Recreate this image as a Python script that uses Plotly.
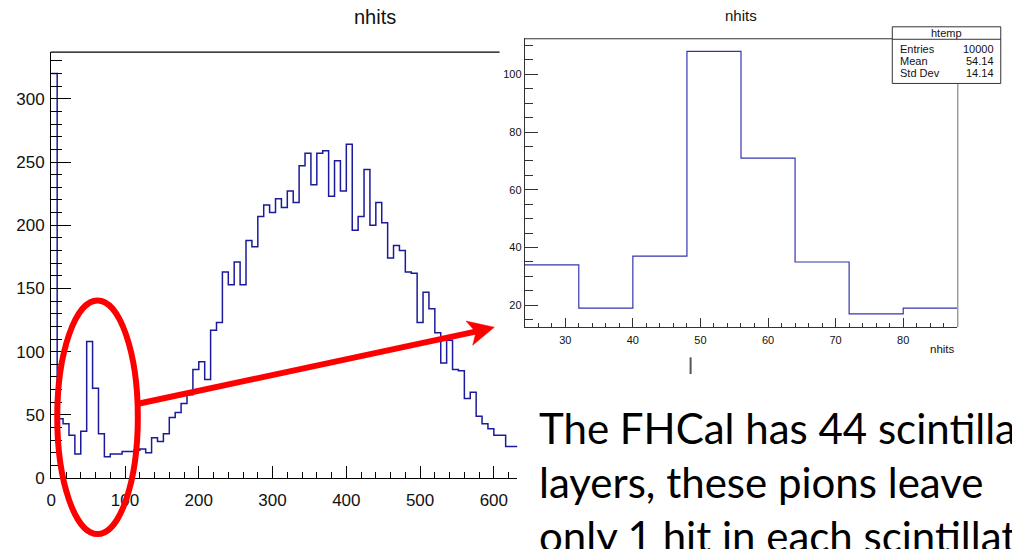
import plotly.graph_objects as go

W, H = 1012, 549

# ---------------- data ----------------
bin_width = 8
left_first_edge = 0
left_counts = [320, 47, 43, 34, 19, 37, 108, 71, 35, 17,
               19, 19, 21, 21, 22, 23, 20, 32, 29, 35,
               48, 52, 59, 66, 86, 92, 78, 117, 123, 163,
               153, 171, 153, 188, 183, 207, 216, 210, 221, 214,
               227, 218, 247, 257, 232, 257, 259, 223, 251, 227,
               264, 196, 207, 244, 200, 218, 202, 174, 184, 180,
               163, 162, 123, 147, 134, 115, 91, 109, 86, 85,
               63, 68, 49, 43, 39, 34, 34, 25, 25]
right_first_edge = 24
right_counts = [34, 19, 37, 108, 71, 35, 17, 19]

stats_title = "htemp"
stats_labels = ["Entries", "Mean", "Std Dev"]
stats_values = ["10000", "54.14", "14.14"]

slide_lines = ["The FHCal has 44 scintillator",
               "layers, these pions leave",
               "only 1 hit in each scintillator"]


def edges(first, n):
    return [first + bin_width * i for i in range(n + 1)]


def px(x):
    return x / W


def py(y):
    return 1 - y / H


left_x = edges(left_first_edge, len(left_counts))
left_y = left_counts + [left_counts[-1]]
right_x = edges(right_first_edge, len(right_counts))
right_y = right_counts + [right_counts[-1]]

HIST = "#1a1a9a"
RED = "#ff0000"
FONT = "Liberation Sans, Arial, sans-serif"

fig = go.Figure()
fig.add_trace(go.Scatter(x=left_x, y=left_y, mode="lines", line_shape="hv",
                         line=dict(color=HIST, width=1.5), xaxis="x", yaxis="y",
                         showlegend=False, hoverinfo="skip"))
fig.add_trace(go.Scatter(x=right_x, y=right_y, mode="lines", line_shape="hv",
                         line=dict(color="#3434b0", width=1.2), xaxis="x2", yaxis="y2",
                         showlegend=False, hoverinfo="skip"))

axis_common = dict(showgrid=False, zeroline=False, showline=True, ticks="inside",
                   tickfont=dict(family=FONT, color="#111"))

fig.update_layout(
    width=W, height=H, autosize=False,
    margin=dict(l=0, r=0, t=0, b=0, pad=0),
    paper_bgcolor="white", plot_bgcolor="rgba(0,0,0,0)",
    xaxis=dict(axis_common, domain=[px(46.5), px(515)], range=[0, 632],
               tick0=0, dtick=100, ticklen=12, tickwidth=1.3, linewidth=1.3,
               linecolor="black", tickcolor="black", tickfont_size=17,
               ticklabelstandoff=6,
               minor=dict(dtick=20, ticklen=6, ticks="inside", tickcolor="black", tickwidth=1.2),
               anchor="y"),
    yaxis=dict(axis_common, domain=[py(487), py(53)], range=[0, 337],
               tick0=0, dtick=50, ticklen=20, tickwidth=1.3, linewidth=1.3,
               linecolor="black", tickcolor="black", tickfont_size=17,
               ticklabelstandoff=2,
               minor=dict(dtick=10, ticklen=11, ticks="inside", tickcolor="black", tickwidth=1.2),
               anchor="x"),
    xaxis2=dict(axis_common, domain=[px(522.3), px(957)], range=[24, 88],
                tick0=0, dtick=10, ticklen=9, tickwidth=1, linewidth=1,
                linecolor="#333", tickcolor="#333", tickfont_size=11,
                ticklabelstandoff=3,
                minor=dict(dtick=2, ticklen=4.5, ticks="inside", tickcolor="#333", tickwidth=1),
                anchor="y2"),
    yaxis2=dict(axis_common, domain=[py(333.3), py(39)], range=[12.4, 112.5],
                tick0=0, dtick=20, ticklen=13, tickwidth=1, linewidth=1,
                linecolor="#333", tickcolor="#333", tickfont_size=11,
                minor=dict(dtick=5, ticklen=8, ticks="inside", tickcolor="#333", tickwidth=1),
                anchor="x2"),
)

shapes = []
# left frame top line
shapes.append(dict(type="line", xref="paper", yref="paper",
                   x0=px(46), x1=px(497), y0=py(53), y1=py(53),
                   line=dict(color="black", width=1.3)))
# right frame top and right border
shapes.append(dict(type="line", xref="paper", yref="paper",
                   x0=px(522), x1=px(957.5), y0=py(39.5), y1=py(39.5),
                   line=dict(color="#333", width=1)))
shapes.append(dict(type="line", xref="paper", yref="paper",
                   x0=px(957.5), x1=px(957.5), y0=py(39.5), y1=py(333.3),
                   line=dict(color="#888", width=1.2)))
# stats box
shapes.append(dict(type="rect", xref="paper", yref="paper",
                   x0=px(891.7), x1=px(1000.7), y0=py(27.3), y1=py(85),
                   fillcolor="white", line=dict(color="#333", width=1)))
shapes.append(dict(type="line", xref="paper", yref="paper",
                   x0=px(891.7), x1=px(1000.7), y0=py(40), y1=py(40),
                   line=dict(color="#333", width=1)))
# small vertical mark
shapes.append(dict(type="line", xref="paper", yref="paper",
                   x0=px(689), x1=px(689), y0=py(364), y1=py(381),
                   line=dict(color="#555", width=2)))
# red ellipse
shapes.append(dict(type="circle", xref="paper", yref="paper",
                   x0=px(52.5), x1=px(133.5), y0=py(544), y1=py(306),
                   line=dict(color=RED, width=6)))
# red arrow shaft
shapes.append(dict(type="line", xref="paper", yref="paper",
                   x0=px(135), y0=py(411), x1=px(474), y1=py(337.5),
                   line=dict(color=RED, width=6)))
# arrow head (stealth)
head = [(491.7, 333.3), (463.3, 327.0), (473.3, 338.5), (470.0, 351.7)]
path = "M " + " L ".join(f"{px(a):.5f},{py(b):.5f}" for a, b in head) + " Z"
shapes.append(dict(type="path", xref="paper", yref="paper", path=path,
                   fillcolor=RED, line=dict(color=RED, width=0.5)))
fig.update_layout(shapes=shapes)

ann = []
ann.append(dict(text="nhits", x=px(371.5), y=py(17), xref="paper", yref="paper",
                showarrow=False, xanchor="center", yanchor="middle",
                font=dict(family=FONT, size=20, color="#111")))
ann.append(dict(text="nhits", x=px(740), y=py(15.5), xref="paper", yref="paper",
                showarrow=False, xanchor="center", yanchor="middle",
                font=dict(family=FONT, size=15, color="#111")))
ann.append(dict(text="nhits", x=px(957), y=py(355), xref="paper", yref="paper",
                showarrow=False, xanchor="right", yanchor="middle",
                font=dict(family=FONT, size=11.5, color="#111")))
ann.append(dict(text=stats_title, x=px(946), y=py(33.6), xref="paper", yref="paper",
                showarrow=False, xanchor="center", yanchor="middle",
                font=dict(family=FONT, size=11, color="#111")))
row_y = [50, 62.3, 74]
for lab, val, yy in zip(stats_labels, stats_values, row_y):
    ann.append(dict(text=lab, x=px(897), y=py(yy), xref="paper", yref="paper",
                    showarrow=False, xanchor="left", yanchor="middle",
                    font=dict(family=FONT, size=11, color="#111")))
    ann.append(dict(text=val, x=px(996), y=py(yy), xref="paper", yref="paper",
                    showarrow=False, xanchor="right", yanchor="middle",
                    font=dict(family=FONT, size=11, color="#111")))
line_y = [436, 491, 546]
for t, yy in zip(slide_lines, line_y):
    ann.append(dict(text=t, x=px(535), y=py(yy), xref="paper", yref="paper",
                    showarrow=False, xanchor="left", yanchor="middle",
                    font=dict(family="Lato, sans-serif", size=42, color="black")))
fig.update_layout(annotations=ann)

fig.write_html("out.html")
